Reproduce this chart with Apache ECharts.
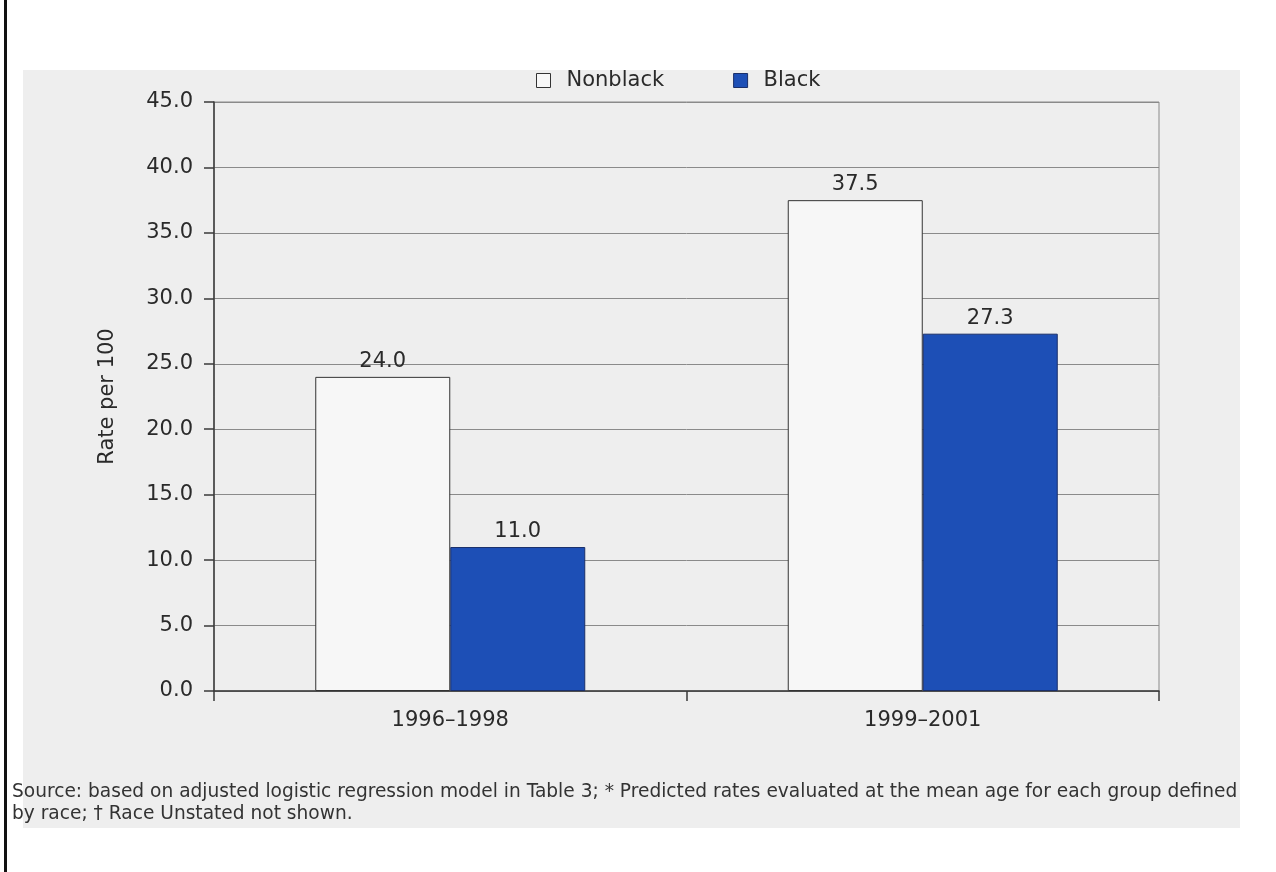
<!DOCTYPE html>
<html>
<head>
<meta charset="utf-8">
<script src="https://cdn.jsdelivr.net/npm/echarts@6/dist/echarts.min.js"></script>
<style>
html,body{margin:0;padding:0;background:#ffffff;}
#chart{width:1276px;height:872px;}
</style>
</head>
<body>
<div id="chart"></div>
<script>
const categories = ['1996\u20131998', '1999\u20132001'];
const nonblack = [24.0, 37.5];
const black = [11.0, 27.3];
const yTicks = [0, 5, 10, 15, 20, 25, 30, 35, 40, 45];
const seriesNames = ['Nonblack', 'Black'];
const yAxisTitle = 'Rate per 100';
const footnote = 'Source: based on adjusted logistic regression model in Table 3; * Predicted rates evaluated at the mean age for each group defined\nby race; \u2020 Race Unstated not shown.';

const FONT = 'DejaVu Sans';
const chart = echarts.init(document.getElementById('chart'));
const option = {
  animation: false,
  backgroundColor: '#ffffff',
  textStyle: { fontFamily: FONT },
  graphic: [
    { type: 'rect', z: -10, shape: { x: 23, y: 70, width: 1217, height: 758 }, style: { fill: '#eeeeee' } },
    { type: 'rect', z: -9, shape: { x: 4, y: 0, width: 3, height: 872 }, style: { fill: '#111111' } },
    { type: 'text', left: 12, top: 781, style: { text: footnote, fontFamily: FONT, fontSize: 18.6, lineHeight: 22, fill: '#333333' } }
  ],
  legend: {
    left: 536, top: 70, padding: 0,
    itemWidth: 14, itemHeight: 14, itemGap: 69,
    icon: 'rect',
    textStyle: { fontFamily: FONT, fontSize: 21, color: '#2a2a2a', padding: [0, 0, 0, 11], width: 111 },
    data: [
      { name: seriesNames[0], itemStyle: { color: '#f7f7f7', borderColor: '#333333', borderWidth: 1 } },
      { name: seriesNames[1], itemStyle: { color: '#1d4fb6', borderColor: '#1a2f6a', borderWidth: 1 } }
    ]
  },
  grid: { left: 214, right: 117, top: 102, bottom: 181, show: true, borderColor: '#8a8a8a', borderWidth: 1, backgroundColor: 'transparent' },
  xAxis: {
    type: 'category',
    data: categories,
    axisLine: { show: true, lineStyle: { color: '#3a3a3a', width: 1.5 } },
    axisTick: { show: true, length: 10, lineStyle: { color: '#3a3a3a', width: 1.5 } },
    axisLabel: { margin: 19, fontSize: 21, color: '#2a2a2a', fontFamily: FONT },
    splitLine: { show: false }
  },
  yAxis: {
    type: 'value',
    min: yTicks[0], max: yTicks[yTicks.length - 1], interval: 5,
    name: yAxisTitle, nameLocation: 'middle', nameGap: 96,
    nameTextStyle: { fontSize: 21, color: '#2a2a2a', fontFamily: FONT },
    axisLine: { show: true, lineStyle: { color: '#3a3a3a', width: 1.5 } },
    axisTick: { show: true, length: 10, lineStyle: { color: '#3a3a3a', width: 1.5 } },
    axisLabel: { margin: 21, fontSize: 21, color: '#2a2a2a', fontFamily: FONT, formatter: v => v.toFixed(1) },
    splitLine: { show: true, lineStyle: { color: '#8a8a8a', width: 1 } }
  },
  series: [
    {
      name: seriesNames[0], type: 'bar', data: nonblack, barWidth: 135, barGap: '0%',
      itemStyle: { color: '#f7f7f7', borderColor: '#333333', borderWidth: 1 },
      label: { show: true, position: 'top', distance: 5, fontSize: 21, color: '#2a2a2a', fontFamily: FONT, formatter: p => p.value.toFixed(1) }
    },
    {
      name: seriesNames[1], type: 'bar', data: black, barWidth: 135, barGap: '0%',
      itemStyle: { color: '#1d4fb6', borderColor: '#1a2f6a', borderWidth: 1 },
      label: { show: true, position: 'top', distance: 5, fontSize: 21, color: '#2a2a2a', fontFamily: FONT, formatter: p => p.value.toFixed(1) }
    }
  ]
};
chart.setOption(option);
</script>
</body>
</html>
